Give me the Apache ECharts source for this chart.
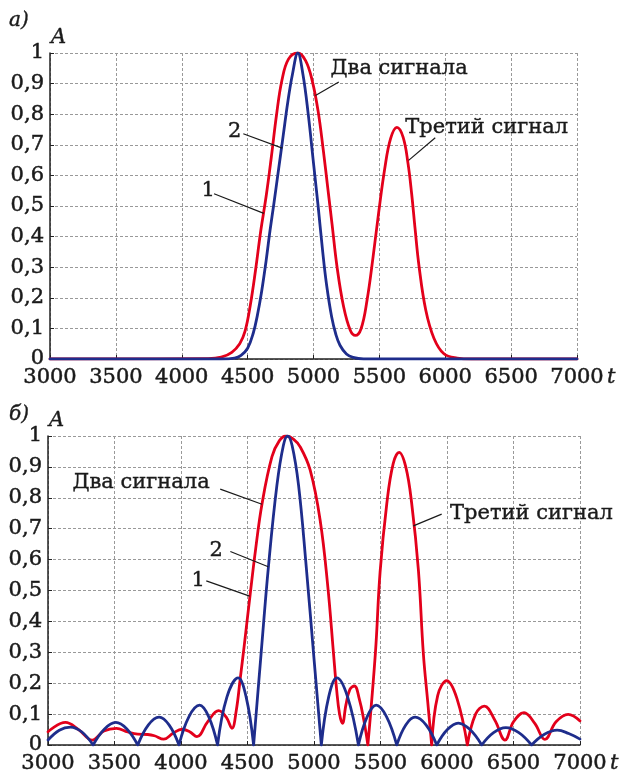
<!DOCTYPE html>
<html>
<head>
<meta charset="utf-8">
<script src="https://cdn.jsdelivr.net/npm/echarts@6/dist/echarts.min.js"></script>
<style>
  html, body { margin: 0; padding: 0; background: #fff; }
  #chart { width: 624px; height: 774px; }
</style>
</head>
<body>
<div id="chart"></div>
<script>
// axis ranges
const tMin = 3000, tMax = 7000, tStep = 500;
const aMin = 0, aMax = 1, aStep = 0.1;

// panel а) - red: two signals + third signal, blue: signal 1
const sumA = [
  [3000, 0], [4200, 0.001], [4300, 0.006], [4380, 0.022], [4440, 0.05], [4480, 0.09],
  [4520, 0.175], [4560, 0.29], [4600, 0.42], [4640, 0.53], [4680, 0.66], [4720, 0.8],
  [4760, 0.91], [4810, 0.98], [4880, 1.0], [4940, 0.975], [4990, 0.91], [5035, 0.81],
  [5075, 0.68], [5108, 0.56], [5141, 0.44], [5179, 0.3], [5229, 0.17], [5280, 0.093],
  [5318, 0.077], [5361, 0.099], [5406, 0.191], [5452, 0.333], [5495, 0.48], [5540, 0.62],
  [5585, 0.72], [5633, 0.757], [5680, 0.725], [5717, 0.64], [5745, 0.54], [5770, 0.43],
  [5802, 0.3], [5852, 0.16], [5914, 0.068], [5990, 0.017], [6091, 0.003], [6200, 0],
  [7000, 0]
];
const oneA = [
  [3000, 0], [4300, 0], [4400, 0.003], [4450, 0.012], [4500, 0.035], [4543, 0.085],
  [4575, 0.145], [4606, 0.22], [4640, 0.32], [4670, 0.42], [4700, 0.51], [4735, 0.62],
  [4770, 0.73], [4805, 0.84], [4840, 0.93], [4881, 1.0], [4920, 0.93], [4960, 0.8],
  [5000, 0.64], [5035, 0.5], [5070, 0.35], [5100, 0.24], [5138, 0.137], [5170, 0.08],
  [5201, 0.045], [5250, 0.016], [5300, 0.005], [5380, 0], [7000, 0]
];

// panel б) - zeros inside the range are cusps
const sumB = [
  [3000, 0.043], [3131, 0.073], [3230, 0.05], [3332, 0.016], [3420, 0.045], [3514, 0.054],
  [3600, 0.042], [3675, 0.035], [3750, 0.034], [3800, 0.03], [3870, 0.019], [3940, 0.038],
  [4008, 0.051], [4065, 0.043], [4120, 0.027], [4200, 0.075], [4283, 0.111], [4340, 0.09],
  [4383, 0.054], [4415, 0.11], [4446, 0.217], [4475, 0.32], [4521, 0.491], [4560, 0.63],
  [4609, 0.78], [4684, 0.933], [4740, 0.985], [4791, 1.0], [4845, 0.99], [4896, 0.965],
  [4971, 0.89], [5046, 0.728], [5104, 0.512], [5146, 0.3], [5170, 0.18], [5192, 0.1],
  [5214, 0.07], [5240, 0.13], [5270, 0.18], [5304, 0.191], [5340, 0.15], [5375, 0.08],
  [5405, 0], [5462, 0.3], [5497, 0.56], [5547, 0.78], [5595, 0.91],
  [5640, 0.947], [5690, 0.9], [5735, 0.78], [5785, 0.566], [5822, 0.297], [5855, 0.14],
  [5885, 0], [5930, 0.16], [5998, 0.208], [6075, 0.15], [6153, 0], [6215, 0.1],
  [6281, 0.126], [6360, 0.08], [6436, 0.016], [6500, 0.075], [6579, 0.105], [6660, 0.07],
  [6736, 0.018], [6820, 0.075], [6911, 0.099], [7000, 0.078]
];
const oneB = [
  [3000, 0.016], [3085, 0.048], [3169, 0.058], [3255, 0.042], [3339, 0],
  [3425, 0.052], [3510, 0.073], [3593, 0.052], [3675, 0],
  [3755, 0.065], [3835, 0.09], [3910, 0.065], [3985, 0],
  [4060, 0.092], [4140, 0.129], [4208, 0.092], [4275, 0],
  [4345, 0.155], [4430, 0.217], [4490, 0.155], [4546, 0],
  [4603, 0.3], [4658, 0.58], [4721, 0.84], [4770, 0.97], [4801, 1.0], [4835, 0.97],
  [4884, 0.84], [4941, 0.58], [4996, 0.3], [5055, 0],
  [5110, 0.155], [5172, 0.217], [5253, 0.155], [5334, 0],
  [5400, 0.092], [5467, 0.129], [5545, 0.092], [5622, 0],
  [5690, 0.065], [5760, 0.09], [5842, 0.065], [5923, 0],
  [6003, 0.05], [6085, 0.071], [6173, 0.05], [6261, 0],
  [6350, 0.04], [6443, 0.056], [6540, 0.04], [6636, 0],
  [6730, 0.034], [6829, 0.048], [6915, 0.037], [7000, 0.019]
];

// annotations: text anchors and leader lines in data units
const notesA = [
  { text: 'Два сигнала', t: 5129, v: 0.95, align: 'left' },
  { text: 'Третий сигнал', t: 5697, v: 0.757, align: 'left' },
  { text: '2', t: 4402, v: 0.743, align: 'center' },
  { text: '1', t: 4201, v: 0.551, align: 'center' }
];
const leadersA = [
  [[5192, 0.905], [5015, 0.861]],
  [[5924, 0.723], [5722, 0.649]],
  [[4467, 0.736], [4763, 0.689]],
  [[4245, 0.54], [4623, 0.476]]
];
const notesB = [
  { text: 'Два сигнала', t: 3184, v: 0.848, align: 'left' },
  { text: 'Третий сигнал', t: 6023, v: 0.748, align: 'left' },
  { text: '2', t: 4265, v: 0.628, align: 'center' },
  { text: '1', t: 4130, v: 0.531, align: 'center' }
];
const leadersB = [
  [[4295, 0.828], [4609, 0.779]],
  [[5960, 0.747], [5747, 0.709]],
  [[4371, 0.626], [4656, 0.577]],
  [[4190, 0.531], [4516, 0.482]]
];
const panelNames = ['а)', 'б)'];
const yName = 'A';
const xName = 't';

const font = 'DejaVu Serif';
const ink = '#1a1a1a';
const red = '#e3001b';
const blue = '#1e2d8c';

// split the line at zero crossings so |sinc| lobes meet in sharp cusps
function withCusps(points) {
  const out = [];
  points.forEach((p, i) => {
    out.push(p);
    if (p[1] === 0 && i > 0 && i < points.length - 1) {
      out.push([p[0], '-'], p);
    }
  });
  return out;
}

const fmtA = (v) => {
  const r = Math.round(v * 10) / 10;
  return String(r).replace('.', ',');
};

const labelText = { fontFamily: font, fontSize: 21, color: ink, textBorderColor: ink, textBorderWidth: 0.5 };

function xAxisFor(gi) {
  return {
    type: 'value', gridIndex: gi, min: tMin, max: tMax, interval: tStep,
    axisLine: { show: true, onZero: false, lineStyle: { color: '#222', width: 1.5 } },
    axisTick: { show: true, inside: true, length: 4, lineStyle: { color: '#222' } },
    axisLabel: Object.assign({ margin: 8, formatter: (v) => String(v) }, labelText),
    splitLine: { show: true, lineStyle: { color: '#999', width: 1, type: [3, 2] } }
  };
}

function yAxisFor(gi) {
  return {
    type: 'value', gridIndex: gi, min: aMin, max: aMax, interval: aStep,
    axisLine: { show: true, lineStyle: { color: '#222', width: 1.5 } },
    axisTick: { show: true, inside: true, length: 4, lineStyle: { color: '#222' } },
    axisLabel: Object.assign({ margin: 6, formatter: fmtA }, labelText),
    splitLine: { show: true, lineStyle: { color: '#999', width: 1, type: [3, 2] } }
  };
}

function lineSeries(gi, data, color, z) {
  return {
    type: 'line', xAxisIndex: gi, yAxisIndex: gi, data: data,
    symbol: 'none', smooth: 0.4, silent: true, z: z,
    lineStyle: { color: color, width: 2.8, cap: 'round', join: 'round' }
  };
}

const chart = echarts.init(document.getElementById('chart'));

chart.setOption({
  animation: false,
  backgroundColor: '#fff',
  grid: [
    { left: 50, top: 53, width: 527, height: 306, outerBoundsMode: 'none' },
    { left: 48, top: 436, width: 532, height: 309, outerBoundsMode: 'none' }
  ],
  xAxis: [xAxisFor(0), xAxisFor(1)],
  yAxis: [yAxisFor(0), yAxisFor(1)],
  series: [
    lineSeries(0, sumA, red, 2),
    lineSeries(0, oneA, blue, 3),
    lineSeries(1, withCusps(sumB), red, 2),
    lineSeries(1, withCusps(oneB), blue, 3)
  ]
});

// annotations placed through the grids' own scales
const graphics = [];
const italic = (text, x, y, size) => ({
  type: 'text', silent: true, x: x, y: y,
  style: { text: text, fontFamily: font, fontStyle: 'italic', fontSize: size, fill: ink, stroke: ink, lineWidth: 0.4,
    align: 'left', verticalAlign: 'middle' }
});
function addNotes(gi, notes, leaders, letterLift) {
  const px = (t, v) => chart.convertToPixel({ gridIndex: gi }, [t, v]);
  leaders.forEach((l) => {
    const a = px(l[0][0], l[0][1]);
    const b = px(l[1][0], l[1][1]);
    graphics.push({
      type: 'line', z: 10, silent: true,
      shape: { x1: a[0], y1: a[1], x2: b[0], y2: b[1] },
      style: { stroke: ink, lineWidth: 1.2 }
    });
  });
  notes.forEach((n) => {
    const p = px(n.t, n.v);
    graphics.push({
      type: 'text', z: 10, silent: true, x: p[0], y: p[1],
      style: { text: n.text, fontFamily: font, fontSize: 21, fill: ink, stroke: ink, lineWidth: 0.4,
        align: n.align, verticalAlign: 'middle' }
    });
  });
  // axis names and the panel letter
  const end = px(tMax, aMin);
  graphics.push(italic(xName, end[0] + 30, end[1] + 19, 21));
  const top = px(tMin, aMax);
  graphics.push(italic(yName, top[0] + 1, top[1] - 15, 21));
  graphics.push(italic(panelNames[gi], 9, top[1] - letterLift, 20));
}
addNotes(0, notesA, leadersA, 32);
addNotes(1, notesB, leadersB, 21);
chart.setOption({ graphic: graphics });
</script>
</body>
</html>
